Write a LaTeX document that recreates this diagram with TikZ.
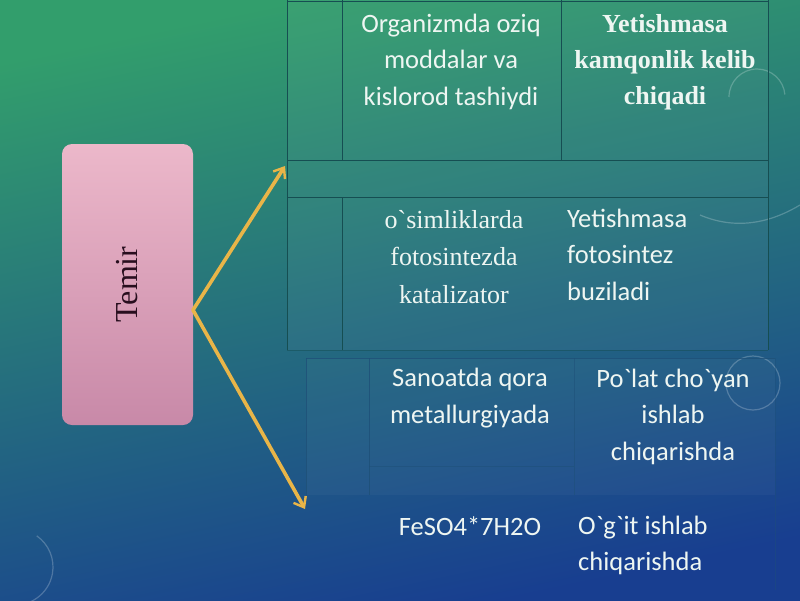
\documentclass[tikz,border=0pt]{standalone}
\usepackage{fontspec}
\usepackage{graphicx}
\setmainfont{Liberation Serif}[Ligatures=TeXOff]
\newfontfamily\calib{Carlito}[Ligatures=TeXOff]
\usetikzlibrary{arrows.meta}
\definecolor{bgtop}{RGB}{50,158,108}
\definecolor{bgmid}{RGB}{32,128,122}
\definecolor{bgbot}{RGB}{24,62,144}
\definecolor{pinktop}{RGB}{236,184,202}
\definecolor{pinkbot}{RGB}{200,137,168}
\definecolor{arrowyel}{RGB}{233,181,72}
\definecolor{txtwhite}{RGB}{238,246,242}
\definecolor{gridA}{RGB}{22,78,82}
\definecolor{gridB}{RGB}{30,80,120}
\definecolor{temirtxt}{RGB}{40,14,30}
\tikzset{
  sanstext/.style={font=\calib\fontsize{26.5}{36.8}\selectfont, text=txtwhite, inner sep=0pt},
  seriftext/.style={font=\fontsize{26}{37.5}\selectfont, text=txtwhite, inner sep=0pt},
  boldtext/.style={font=\bfseries\fontsize{26}{36}\selectfont, text=txtwhite, inner sep=0pt},
  gridup/.style={draw=gridA, line width=1pt},
  gridlow/.style={draw=gridB, line width=0.9pt, opacity=0.8},
  deco/.style={draw=white, line width=1.2pt, opacity=0.22},
  temirbox/.style={rounded corners=10pt, minimum width=131pt, minimum height=281pt,
     top color=pinktop, bottom color=pinkbot, inner sep=0pt,
     font=\fontsize{32}{32}\selectfont, text=temirtxt},
  yarrow/.style={draw=arrowyel, line width=3.6pt, -{Straight Barb[length=9pt,width=14pt,line width=2.4pt]}, line cap=round, line join=round},
}
\begin{document}
\begin{tikzpicture}[x=1pt,y=-1pt]
\useasboundingbox (0,0) rectangle (800,600);
% background
\shade[shading=axis, top color=bgtop, middle color=bgmid, bottom color=bgbot, shading angle=12] (0,0) rectangle (800,600);
% decorative arcs
\draw[deco] (757,97) ++(180:28) arc[start angle=180, end angle=355, radius=28];
\draw[deco] (700,215) .. controls (740,232) and (775,220) .. (800,205);
\draw[deco] (753,383) circle[radius=27];
\draw[deco] (15,567) ++(100:38) arc[start angle=100, end angle=-55, radius=38];
% upper table
\fill[white, opacity=0.04] (287,0) rectangle (768,350);
\draw[gridup] (287,0) -- (287,350);
\draw[gridup] (342,0) -- (342,160);
\draw[gridup] (342,197) -- (342,350);
\draw[gridup] (561,0) -- (561,160);
\draw[gridup] (768,0) -- (768,350);
\draw[gridup] (287,1) -- (768,1);
\draw[gridup] (287,160) -- (768,160);
\draw[gridup] (287,197) -- (768,197);
\draw[gridup, opacity=0.5] (287,350) -- (768,350);
% lower table
\fill[white, opacity=0.03] (306,358) rectangle (775,495);
\draw[gridlow] (306,358) -- (775,358);
\draw[gridlow] (306,358) -- (306,495);
\draw[gridlow] (369,358) -- (369,495);
\draw[gridlow, opacity=0.5] (574,358) -- (574,495);
\draw[gridlow, opacity=0.5] (369,466) -- (574,466);
\draw[gridlow, opacity=0.4] (775,358) -- (775,590);
% Temir box
\node[temirbox] (temir) at (127.5,284.5) {\rotatebox{90}{Temir}};
\coordinate (fork) at (193,310);
\coordinate (up) at (285,166);
\coordinate (down) at (305,509);
\draw[yarrow] (fork) -- (up);
\draw[yarrow] (fork) -- (down);
% texts
\node[sanstext, align=center, anchor=north] (t1) at (451,13.5) {Organizmda oziq\\moddalar va\\kislorod tashiydi};
\node[boldtext, align=center, anchor=north] (t2) at (665,14.5) {Yetishmasa\\kamqonlik kelib\\chiqadi};
\node[seriftext, align=center, anchor=north] (t3) at (454,210) {o`simliklarda\\fotosintezda\\katalizator};
\node[sanstext, align=left, anchor=north west] (t4) at (567,208.5) {Yetishmasa\\fotosintez\\buziladi};
\node[sanstext, align=center, anchor=north] (t5) at (470,368) {Sanoatda qora\\metallurgiyada};
\node[sanstext, align=center, anchor=north] (t6) at (673,368.5) {Po`lat cho`yan\\ishlab\\chiqarishda};
\node[sanstext, align=center, anchor=north] (t7) at (470,516) {FeSO4*7H2O};
\node[sanstext, align=left, anchor=north west] (t8) at (578,515.5) {O`g`it ishlab\\chiqarishda};
\end{tikzpicture}
\end{document}
